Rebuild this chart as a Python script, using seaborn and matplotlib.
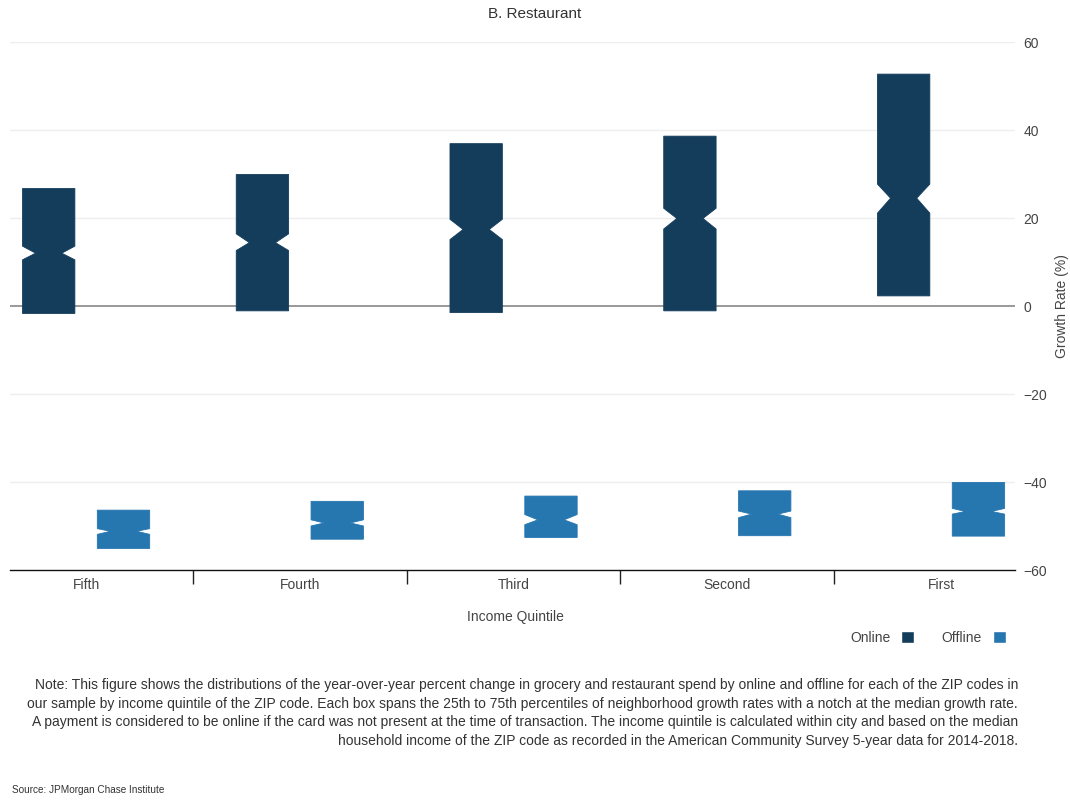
import numpy as np
import matplotlib.pyplot as plt
from matplotlib.patches import Patch
import seaborn as sns

# Box statistics (growth rate, %)
quintiles = ["First", "Second", "Third", "Fourth", "Fifth"]

online_q1 = [2.3, -1.1, -1.5, -1.1, -1.7]
online_med = [24.5, 19.9, 17.4, 14.4, 12.0]
online_q3 = [52.7, 38.6, 36.9, 29.9, 26.7]
online_cilo = [21.1, 17.5, 15.1, 12.6, 10.5]
online_cihi = [27.7, 22.2, 19.7, 16.4, 13.6]

offline_q1 = [-52.3, -52.2, -52.6, -53.0, -55.1]
offline_med = [-46.7, -47.3, -48.6, -49.3, -51.2]
offline_q3 = [-40.1, -42.0, -43.2, -44.4, -46.4]
offline_cilo = [-47.3, -48.1, -49.7, -50.0, -51.9]
offline_cihi = [-46.0, -46.6, -47.4, -48.6, -50.6]

yticks = [-60, -40, -20, 0, 20, 40, 60]

note = ("Note: This figure shows the distributions of the year-over-year percent change in grocery and restaurant spend by online and offline for each of the ZIP codes in\n"
        "our sample by income quintile of the ZIP code. Each box spans the 25th to 75th percentiles of neighborhood growth rates with a notch at the median growth rate.\n"
        "A payment is considered to be online if the card was not present at the time of transaction. The income quintile is calculated within city and based on the median\n"
        "household income of the ZIP code as recorded in the American Community Survey 5-year data for 2014-2018.")

c_online = "#143d5c"
c_offline = "#2676b0"

sns.set_theme(style="white")
plt.rcParams['font.family'] = ['Liberation Sans', 'DejaVu Sans']

fig = plt.figure(figsize=(10.7, 8), dpi=100)
ax = fig.add_axes([10 / 1070, 1 - 570 / 800, 1005 / 1070, 528 / 800])


def stats(q1, med, q3, lo, hi):
    return [dict(med=m, q1=a, q3=b, whislo=a, whishi=b, cilo=l, cihi=h, fliers=[])
            for a, m, b, l, h in zip(q1, med, q3, lo, hi)]


pos = np.arange(len(quintiles))
for st, off, col in [
    (stats(online_q1, online_med, online_q3, online_cilo, online_cihi), 0.175, c_online),
    (stats(offline_q1, offline_med, offline_q3, offline_cilo, offline_cihi), -0.175, c_offline),
]:
    ax.bxp(st, positions=pos + off, widths=0.245, shownotches=True, patch_artist=True,
           showcaps=False, showfliers=False,
           boxprops=dict(facecolor=col, edgecolor=col, linewidth=0.6),
           medianprops=dict(linewidth=0), whiskerprops=dict(linewidth=0),
           manage_ticks=False, zorder=3)

ax.set_xlim(4.356, -0.346)
ax.set_ylim(-60, 60)

# y axis on the right
ax.yaxis.tick_right()
ax.set_yticks(yticks)
ax.tick_params(axis='y', length=0, pad=6, labelsize=10, labelcolor="#444444")
for t in yticks:
    if t == 0:
        ax.axhline(0, color="#888888", lw=1.2, zorder=2)
    elif t != -60:
        ax.axhline(t, color="#eeeeee", lw=1, zorder=1)

# x ticks at category boundaries, labels at centers
ax.set_xticks(pos[:-1] + 0.5)
ax.set_xticklabels([])
ax.set_xticks(pos, minor=True)
ax.set_xticklabels(quintiles, minor=True)
ax.tick_params(axis='x', which='major', length=10, width=1, color="#222222", direction='out', bottom=True)
ax.tick_params(axis='x', which='minor', length=0, pad=6, labelsize=10, labelcolor="#444444")

for s in ['top', 'left', 'right']:
    ax.spines[s].set_visible(False)
ax.spines['bottom'].set_color("#111111")
ax.spines['bottom'].set_linewidth(1)
ax.grid(False)

fig.text(535 / 1070, 1 - 14 / 800, "B. Restaurant", ha='center', va='center', fontsize=11, color="#333333")
fig.text(1062 / 1070, 1 - 306 / 800, "Growth Rate (%)", ha='center', va='center', rotation=90,
         fontsize=10, color="#444444")
fig.text(515 / 1070, 1 - 617 / 800, "Income Quintile", ha='center', va='center', fontsize=10, color="#444444")

handles = [Patch(facecolor=c_online, label="Online"), Patch(facecolor=c_offline, label="Offline")]
fig.legend(handles=handles, loc='center right', bbox_to_anchor=(1018 / 1070, 1 - 638 / 800), ncol=2,
           frameon=False, markerfirst=False, handlelength=0.9, handleheight=0.9, handletextpad=0.8,
           columnspacing=2.0, fontsize=10, labelcolor="#444444")

fig.text(1018 / 1070, 1 - 713 / 800, note, ha='right', va='center', fontsize=10, color="#333333",
         linespacing=1.42)
fig.text(12 / 1070, 1 - 790 / 800, "Source: JPMorgan Chase Institute", ha='left', va='center',
         fontsize=7.2, color="#333333")

fig.savefig("out.png", dpi=100)
